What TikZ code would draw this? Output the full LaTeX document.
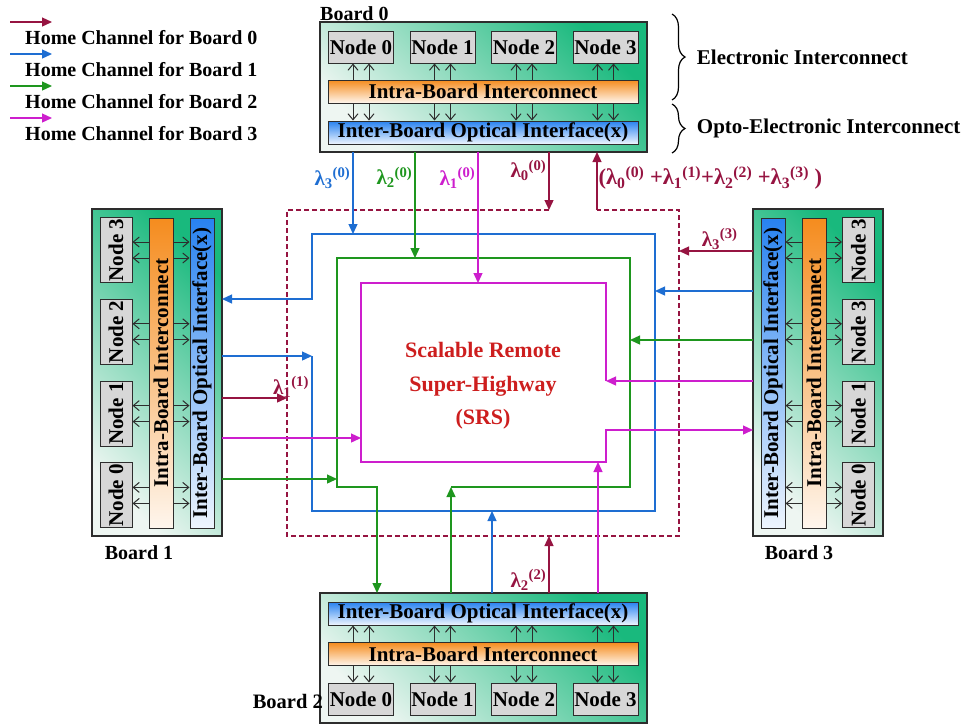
\documentclass[tikz,border=0pt]{standalone}
\usepackage{fontspec}
\setmainfont{Liberation Serif}
\usetikzlibrary{arrows.meta,calc,decorations.pathreplacing}

\definecolor{hc0}{RGB}{150,20,65}
\definecolor{hc1}{RGB}{30,110,210}
\definecolor{hc2}{RGB}{30,150,30}
\definecolor{hc3}{RGB}{205,30,205}
\definecolor{boardgreen}{RGB}{25,185,125}
\definecolor{boardpale}{RGB}{238,246,242}
\definecolor{optblue}{RGB}{40,130,240}
\definecolor{elorange}{RGB}{245,140,30}
\definecolor{srsred}{RGB}{205,30,30}
\definecolor{nodegray}{RGB}{215,215,215}
\definecolor{rim}{RGB}{45,45,45}

\newcommand{\lam}[2]{λ\textsubscript{#1}\textsuperscript{(#2)}}

\begin{document}
\begin{tikzpicture}[x=1pt,y=-1pt,>={Triangle[length=10pt,width=9pt]},
    font=\bfseries\fontsize{21}{25}\selectfont,
    board box/.style={draw=rim,line width=1.5pt,top color=boardgreen,bottom color=boardpale,shading angle=-45,
      minimum width=327pt,minimum height=130pt,inner sep=0pt},
    node box/.style={draw=rim,line width=1pt,fill=nodegray,minimum width=65pt,minimum height=32pt,inner sep=0pt},
    intra bar/.style={draw=rim,line width=1pt,top color=elorange,bottom color=white!92!elorange,
      minimum width=310pt,minimum height=23pt,inner sep=0pt},
    inter bar/.style={draw=rim,line width=1pt,top color=optblue,bottom color=white!92!optblue,
      minimum width=310pt,minimum height=23pt,inner sep=0pt},
    upright/.style={minimum width=24pt,minimum height=310pt},
    layer link/.style={draw=rim,line width=1pt,-{Straight Barb[length=6pt,width=10pt]}},
    home 0/.style={hc0,line width=1.3pt},
    home 1/.style={hc1,line width=1.3pt},
    home 2/.style={hc2,line width=1.3pt},
    home 3/.style={hc3,line width=1.3pt},
    ring dash/.style={dash pattern=on 5pt off 3pt},
    wave label/.style={inner sep=2pt}]
\useasboundingbox (0,0) rectangle (974,724);

% legend
\foreach \i/\c in {0/hc0,1/hc1,2/hc2,3/hc3} {
  \coordinate (legA\i) at (10,22+32*\i);
  \coordinate (legB\i) at (52,22+32*\i);
  \draw[\c,line width=1.3pt,->] (legA\i) -- (legB\i);
  \node[anchor=west,inner sep=0pt,font=\bfseries\fontsize{20}{24}\selectfont] (legtxt\i) at (25,38+32*\i) {Home Channel for Board \i};
}

% boards
\node[board box] (b0) at (483.5,87) {};
\node[board box] (b2) at (483.5,658) {};
\node[board box,minimum width=130pt,minimum height=327pt] (b1) at (157,372.5) {};
\node[board box,minimum width=130pt,minimum height=327pt] (b3) at (818,372.5) {};

\node[anchor=base west,inner sep=0pt,font=\bfseries\fontsize{20}{24}\selectfont] (b0lbl) at (320,20) {Board 0};
\node[font=\bfseries\fontsize{20}{24}\selectfont] (b1lbl) at (139,553) {Board 1};
\node[anchor=east,inner sep=1pt,font=\bfseries\fontsize{20.5}{24}\selectfont] (b2lbl) at (324,701) {Board 2};
\node[font=\bfseries\fontsize{20}{24}\selectfont] (b3lbl) at (799,553) {Board 3};

% board 0
\node[intra bar] (b0intra) at (483,91.5) {Intra-Board Interconnect};
\node[inter bar] (b0inter) at (483,132.5) {Inter-Board Optical Interface(x)};
\foreach \i/\x in {0/361,1/442.5,2/524,3/605.5}
  \node[node box] (b0n\i) at (\x,47) {Node \i};
\foreach \i in {0,...,3} \foreach \d in {-8,8} {
  \draw[layer link] ($(b0n\i.south |- b0intra.north)+(\d,0)$) -- ($(b0n\i.south)+(\d,0)$);
  \draw[layer link] ($(b0n\i.south |- b0intra.south)+(\d,0)$) -- ($(b0n\i.south |- b0inter.north)+(\d,0)$);
}

% board 2
\node[inter bar] (b2inter) at (483,613.5) {Inter-Board Optical Interface(x)};
\node[intra bar] (b2intra) at (483,654) {Intra-Board Interconnect};
\foreach \i/\x in {0/361,1/442.5,2/524,3/605.5}
  \node[node box] (b2n\i) at (\x,699) {Node \i};
\foreach \i in {0,...,3} \foreach \d in {-8,8} {
  \draw[layer link] ($(b2n\i.north |- b2intra.north)+(\d,0)$) -- ($(b2n\i.north |- b2inter.south)+(\d,0)$);
  \draw[layer link] ($(b2n\i.north |- b2intra.south)+(\d,0)$) -- ($(b2n\i.north)+(\d,0)$);
}

% board 1
\node[intra bar,upright] (b1intra) at (161,373) {};
\node[rotate=90] (b1intraT) at (b1intra) {Intra-Board Interconnect};
\node[inter bar,upright] (b1inter) at (202,373) {};
\node[rotate=90] (b1interT) at (b1inter) {Inter-Board Optical Interface(x)};
\foreach \i/\y in {0/495.4,1/413.6,2/331.8,3/250}
  \node[node box,rotate=90] (b1n\i) at (116,\y) {Node \i};
\foreach \i in {0,...,3} \foreach \d in {-8,8} {
  \draw[layer link] ($(b1n\i.center -| b1intra.west)+(0,\d)$) -- ($(b1n\i.south)+(0,\d)$);
  \draw[layer link] ($(b1n\i.center -| b1intra.east)+(0,\d)$) -- ($(b1n\i.center -| b1inter.west)+(0,\d)$);
}

% board 3
\node[inter bar,upright] (b3inter) at (773,373) {};
\node[rotate=90] (b3interT) at (b3inter) {Inter-Board Optical Interface(x)};
\node[intra bar,upright] (b3intra) at (814,373) {};
\node[rotate=90] (b3intraT) at (b3intra) {Intra-Board Interconnect};
\foreach \i/\y/\t in {0/495.4/0,1/413.6/1,2/331.8/3,3/250/3}
  \node[node box,rotate=90] (b3n\i) at (858.5,\y) {Node \t};
\foreach \i in {0,...,3} \foreach \d in {-8,8} {
  \draw[layer link] ($(b3n\i.center -| b3intra.west)+(0,\d)$) -- ($(b3n\i.center -| b3inter.east)+(0,\d)$);
  \draw[layer link] ($(b3n\i.center -| b3intra.east)+(0,\d)$) -- ($(b3n\i.north)+(0,\d)$);
}

% braces
\coordinate (brA) at (672,14);
\coordinate (brB) at (672,100);
\coordinate (brC) at (672,104);
\coordinate (brD) at (672,153);
\draw[decorate,decoration={brace,amplitude=13pt},line width=1.2pt] (brA) -- (brB)
  node[midway,anchor=west,xshift=21pt] (elec) {Electronic Interconnect};
\draw[decorate,decoration={brace,amplitude=13pt},line width=1.2pt] (brC) -- (brD)
  node[midway,anchor=west,xshift=21pt] (optel) {Opto-Electronic Interconnect};

% super-highway rings
\coordinate (mr-nw) at (287,210);  \coordinate (mr-se) at (679,536);
\coordinate (blu-nw) at (312,234); \coordinate (blu-se) at (655,511);
\coordinate (grn-nw) at (337,258); \coordinate (grn-se) at (630,487);
\coordinate (mag-nw) at (361,283); \coordinate (mag-se) at (606,462);

% ports on the boards
\foreach \c/\x in {1/353,2/415,3/478,0/549,r/597} \coordinate (p0-\c) at (\x,152);
\foreach \c/\y in {1i/299,1/356,0/398,3/438,2/479} \coordinate (p1-\c) at (222,\y);
\foreach \c/\x in {2i/377,2/451,1/492,0/549,3/598} \coordinate (p2-\c) at (\x,593);
\foreach \c/\y in {0/251,1/291,2/340,3/381,3i/430} \coordinate (p3-\c) at (753,\y);

\node[text=srsred,align=center,font=\bfseries\fontsize{22}{33.5}\selectfont] (srs) at (483,386)
  {Scalable Remote\\Super-Highway\\(SRS)};

% home channel of board 0
\draw[home 0,->] (p0-0) -- (p0-0 |- mr-nw) node[wave label,pos=.32,left] (l00) {\lam{0}{0}};
\draw[home 0,->] (p1-0) -- (p1-0 -| mr-nw) node[inner sep=0pt,pos=1,above,xshift=4pt] (l11) {\lam{1}{1}};
\draw[home 0,->] (p2-0) -- (p2-0 |- mr-se) node[wave label,pos=.23,left] (l22) {\lam{2}{2}};
\draw[home 0,->] (p3-0) -- (p3-0 -| mr-se) node[inner sep=1pt,pos=.45,above] (l33) {\lam{3}{3}};
\draw[home 0,ring dash] (p0-0 |- mr-nw) -- (mr-nw) |- (mr-se) |- (p0-r |- mr-nw);
\draw[home 0,->] (p0-r |- mr-nw) -- (p0-r)
  node[inner sep=1pt,pos=.55,right,font=\bfseries\fontsize{22.5}{26}\selectfont] (lsum)
  {(\lam{0}{0} +\lam{1}{1}+\lam{2}{2} +\lam{3}{3} )};

% home channel of board 1
\draw[home 1,->] (p0-1) -- (p0-1 |- blu-nw) node[wave label,pos=.32,left] (l30) {\lam{3}{0}};
\draw[home 1,->] (p1-1) -- (p1-1 -| blu-nw);
\draw[home 1,->] (p2-1) -- (p2-1 |- blu-se);
\draw[home 1,->] (p3-1) -- (p3-1 -| blu-se);
\draw[home 1,->] (p1-1 -| blu-nw) |- (blu-se) |- (blu-nw) -- (blu-nw |- p1-1i) -- (p1-1i);

% home channel of board 2
\draw[home 2,->] (p0-2) -- (p0-2 |- grn-nw) node[wave label,pos=.24,left] (l20) {\lam{2}{0}};
\draw[home 2,->] (p1-2) -- (p1-2 -| grn-nw);
\draw[home 2,->] (p2-2) -- (p2-2 |- grn-se);
\draw[home 2,->] (p3-2) -- (p3-2 -| grn-se);
\draw[home 2,->] (p2-2 |- grn-se) -- (grn-se) |- (grn-nw) -- (grn-nw |- grn-se) -- (p2-2i |- grn-se) -- (p2-2i);

% home channel of board 3
\draw[home 3,->] (p0-3) -- (p0-3 |- mag-nw) node[wave label,pos=.2,left] (l10) {\lam{1}{0}};
\draw[home 3,->] (p1-3) -- (p1-3 -| mag-nw);
\draw[home 3,->] (p2-3) -- (p2-3 |- mag-se);
\draw[home 3,->] (p3-3) -- (p3-3 -| mag-se);
\draw[home 3,->] (p3-3 -| mag-se) |- (mag-nw) |- (mag-se) -- (mag-se |- p3-3i) -- (p3-3i);
\end{tikzpicture}
\end{document}
